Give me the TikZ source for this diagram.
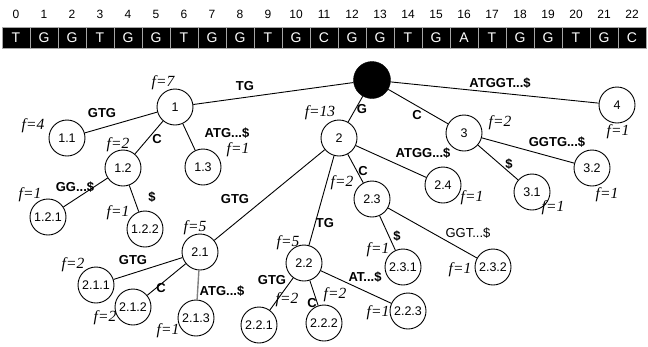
\documentclass[tikz,border=0pt]{standalone}
\usepackage{fontspec}
\setmainfont{Liberation Sans}
\newfontfamily\tms{Liberation Serif}
\begin{document}
\begin{tikzpicture}[x=1pt,y=-1pt,
  tn/.style={circle,draw,line width=0.9pt,fill=white,minimum size=36pt,inner sep=0pt,font=\fontsize{12.5}{12.5}\selectfont},
  rootn/.style={circle,draw,fill=black,minimum size=37pt,inner sep=0pt},
  el/.style={font=\bfseries\fontsize{13}{13}\selectfont,inner sep=0pt},
  elr/.style={font=\fontsize{13}{13}\selectfont,inner sep=0pt},
  fl/.style={font=\tms\itshape\fontsize{15.5}{15.5}\selectfont,inner sep=0pt},
  cell/.style={draw=gray!70,line width=0.8pt,fill=black,text=white,minimum width=28pt,minimum height=21pt,inner sep=0pt,font=\fontsize{14}{14}\selectfont},
  idx/.style={font=\fontsize{12}{12}\selectfont,inner sep=0pt},
  ed/.style={line width=0.9pt}]
\useasboundingbox (0,0) rectangle (648,346);
\foreach \i/\c in {0/T,1/G,2/G,3/T,4/G,5/G,6/T,7/G,8/G,9/T,10/G,11/C,12/G,13/G,14/T,15/G,16/A,17/T,18/G,19/G,20/T,21/G,22/C}{
  \node[cell] (c\i) at ({16+28*\i},37.5) {\c};
  \node[idx] (i\i) at ({16+28*\i},14) {\i};
}
% tree nodes
\node[rootn] (r) at (372,80) {};
\node[tn] (n1) at (175,107) {1};
\node[tn] (n11) at (67,138) {1.1};
\node[tn] (n12) at (123,168) {1.2};
\node[tn] (n13) at (203,167) {1.3};
\node[tn] (n121) at (48,217) {1.2.1};
\node[tn] (n122) at (145,229) {1.2.2};
\node[tn] (n2) at (339,138) {2};
\node[tn] (n21) at (200,252) {2.1};
\node[tn] (n211) at (96,285) {2.1.1};
\node[tn] (n212) at (133,307) {2.1.2};
\node[tn] (n213) at (196,318) {2.1.3};
\node[tn] (n22) at (304,263) {2.2};
\node[tn] (n221) at (259,325) {2.2.1};
\node[tn] (n222) at (324,323) {2.2.2};
\node[tn] (n223) at (408,311) {2.2.3};
\node[tn] (n23) at (372,199) {2.3};
\node[tn] (n231) at (403,267) {2.3.1};
\node[tn] (n232) at (493,267) {2.3.2};
\node[tn] (n24) at (443,185) {2.4};
\node[tn] (n3) at (464,133) {3};
\node[tn] (n31) at (532,192) {3.1};
\node[tn] (n32) at (592,168) {3.2};
\node[tn] (n4) at (617,105) {4};
% edges
\draw[ed] (r) -- (n1);
\draw[ed] (r) -- (n2);
\draw[ed] (r) -- (n3);
\draw[ed] (r) -- (n4);
\draw[ed] (n1) -- (n11);
\draw[ed] (n1) -- (n12);
\draw[ed] (n1) -- (n13);
\draw[ed] (n12) -- (n121);
\draw[ed] (n12) -- (n122);
\draw[ed] (n2) -- (n21);
\draw[ed] (n2) -- (n22);
\draw[ed] (n2) -- (n23);
\draw[ed] (n2) -- (n24);
\draw[ed] (n21) -- (n211);
\draw[ed] (n21) -- (n212);
\draw[ed,draw=gray,line width=1.4pt] (n21) -- (n213);
\draw[ed] (n22) -- (n221);
\draw[ed] (n22) -- (n222);
\draw[ed] (n22) -- (n223);
\draw[ed] (n23) -- (n231);
\draw[ed] (n23) -- (n232);
\draw[ed] (n3) -- (n31);
\draw[ed] (n3) -- (n32);
% edge labels
\node[el] (l1) at (245,86) {TG};
\node[el] (l11) at (102,113) {GTG};
\node[el] (l12) at (157,139) {C};
\node[el] (l13) at (227,133) {ATG...\$};
\node[el] (l121) at (75,187) {GG...\$};
\node[el] (l122) at (152,197) {\$};
\node[el] (l2) at (362,109) {G};
\node[el] (l21) at (235,199) {GTG};
\node[el] (l211) at (133,260) {GTG};
\node[el] (l212) at (161,288) {C};
\node[el] (l213) at (222,291) {ATG...\$};
\node[el] (l22) at (325,223) {TG};
\node[el] (l221) at (272,280) {GTG};
\node[el] (l222) at (312,303) {C};
\node[el] (l223) at (365,277) {AT...\$};
\node[el] (l23) at (363,171) {C};
\node[el] (l231) at (397,236) {\$};
\node[elr] (l232) at (468,233) {GGT...\$};
\node[el] (l24) at (423,153) {ATGG...\$};
\node[el] (l3) at (417,115) {C};
\node[el] (l31) at (509,164) {\$};
\node[el] (l32) at (557,142) {GGTG...\$};
\node[el] (l4) at (500,83) {ATGGT...\$};
% f labels
\node[fl] (f1) at (163,83) {f=7};
\node[fl] (f11) at (33,126) {f=4};
\node[fl] (f12) at (118,145) {f=2};
\node[fl] (f13) at (238,150) {f=1};
\node[fl] (f121) at (30,195) {f=1};
\node[fl] (f122) at (118,213) {f=1};
\node[fl] (f2) at (320,113) {f=13};
\node[fl] (f21) at (195,228) {f=5};
\node[fl] (f211) at (73,265) {f=2};
\node[fl] (f212) at (105,318) {f=2};
\node[fl] (f213) at (168,331) {f=1};
\node[fl] (f22) at (288,243) {f=5};
\node[fl] (f221) at (287,300) {f=2};
\node[fl] (f222) at (335,295) {f=2};
\node[fl] (f223) at (378,313) {f=1};
\node[fl] (f23) at (342,183) {f=2};
\node[fl] (f231) at (378,250) {f=1};
\node[fl] (f232) at (460,270) {f=1};
\node[fl] (f24) at (472,198) {f=1};
\node[fl] (f3) at (500,123) {f=2};
\node[fl] (f31) at (553,208) {f=1};
\node[fl] (f32) at (607,195) {f=1};
\node[fl] (f4) at (618,132) {f=1};
\end{tikzpicture}
\end{document}
